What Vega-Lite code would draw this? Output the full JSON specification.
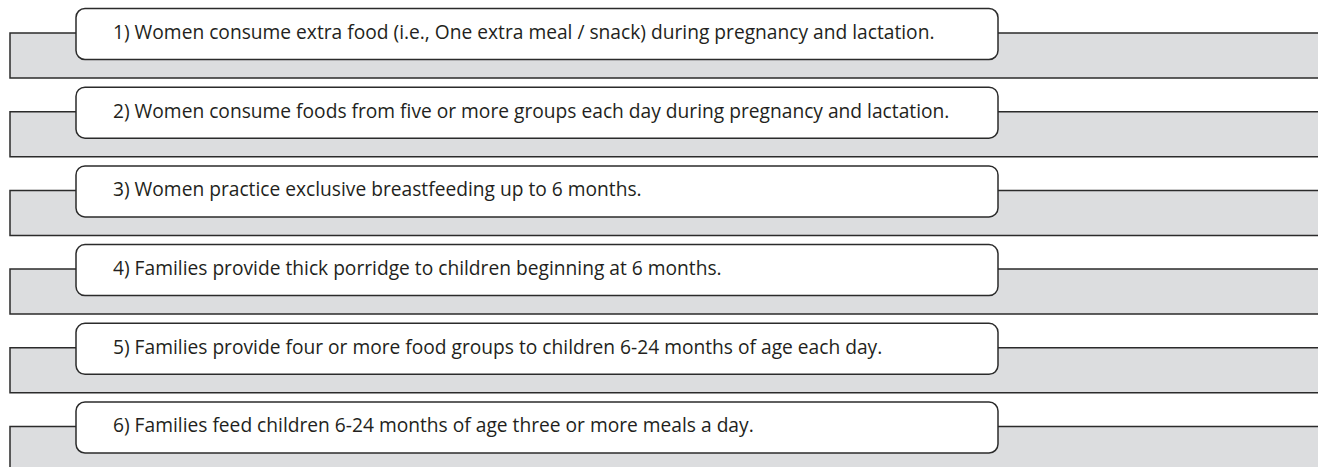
{
  "$schema": "https://vega.github.io/schema/vega-lite/v6.json",
  "autosize": {"type": "fit", "contains": "padding"},
  "width": 1318,
  "height": 467,
  "padding": 0,
  "background": "white",
  "config": {"view": {"stroke": null}},
  "data": {
    "values": [
      {"row": 1, "label": "1) Women consume extra food (i.e., One extra meal / snack) during pregnancy and lactation."},
      {"row": 2, "label": "2) Women consume foods from five or more groups each day during pregnancy and lactation."},
      {"row": 3, "label": "3) Women practice exclusive breastfeeding up to 6 months."},
      {"row": 4, "label": "4) Families provide thick porridge to children beginning at 6 months."},
      {"row": 5, "label": "5) Families provide four or more food groups to children 6-24 months of age each day."},
      {"row": 6, "label": "6) Families feed children 6-24 months of age three or more meals a day."}
    ]
  },
  "encoding": {
    "y": {"field": "row", "type": "quantitative", "scale": {"domain": [0.568, 6.502], "reverse": true, "zero": false, "nice": false}, "axis": null}
  },
  "layer": [
    {
      "mark": {"type": "rect", "fill": "#dcdddf", "stroke": "#2b2b2b", "strokeWidth": 1.5, "clip": true, "yOffset": -1, "y2Offset": 44},
      "encoding": {
        "x": {"datum": 10, "type": "quantitative", "scale": {"domain": [0, 1318], "nice": false, "zero": false}, "axis": null},
        "x2": {"datum": 1340},
        "y2": {"field": "row"}
      }
    },
    {
      "mark": {"type": "rect", "fill": "white", "stroke": "#2b2b2b", "strokeWidth": 1.5, "cornerRadius": 9, "clip": true, "yOffset": -25.5, "y2Offset": 25.5},
      "encoding": {
        "x": {"datum": 76, "type": "quantitative"},
        "x2": {"datum": 998},
        "y2": {"field": "row"}
      }
    },
    {
      "mark": {"type": "text", "align": "left", "baseline": "middle", "font": "Open Sans", "fontSize": 19.2, "color": "#231f20", "yOffset": -1},
      "encoding": {
        "x": {"datum": 113, "type": "quantitative"},
        "text": {"field": "label"}
      }
    }
  ]
}
